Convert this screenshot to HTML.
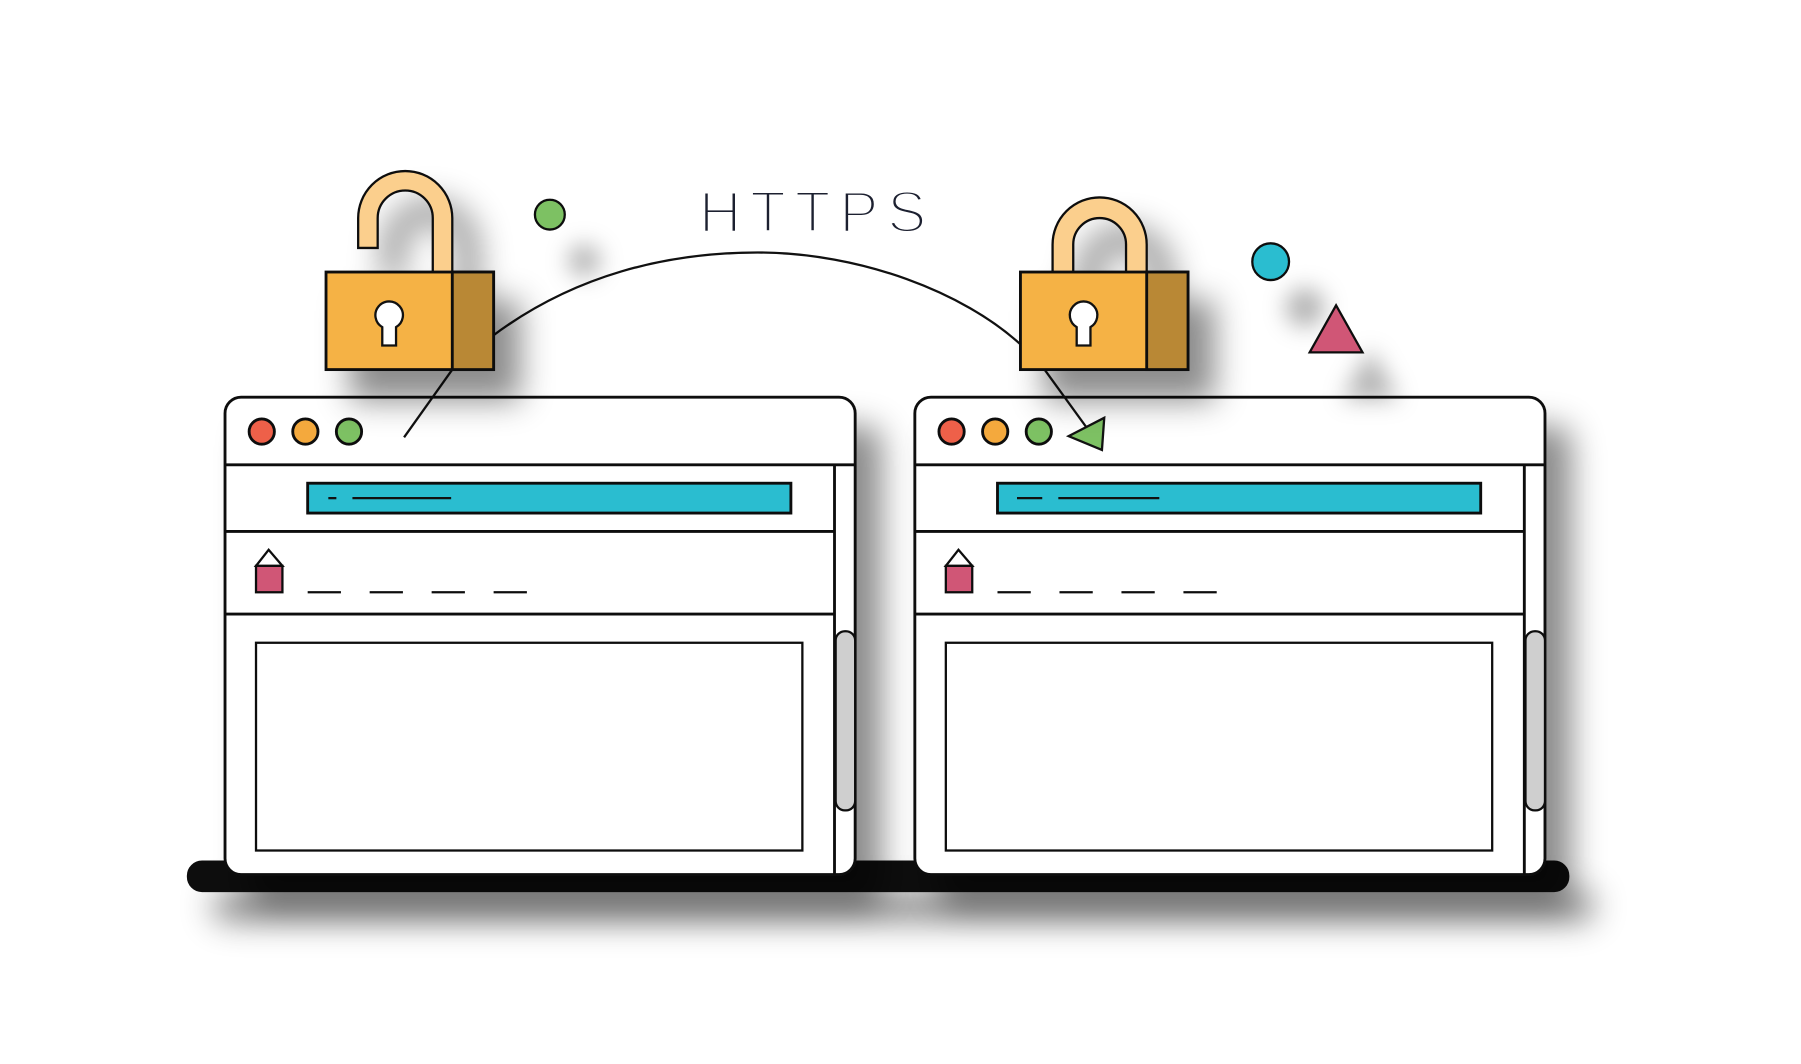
<!DOCTYPE html>
<html><head><meta charset="utf-8"><style>
html,body{margin:0;padding:0;background:#fff;width:1801px;height:1064px;overflow:hidden}
svg{display:block}
</style></head><body>
<svg width="1801" height="1064" viewBox="0 0 1569 927" xmlns="http://www.w3.org/2000/svg">
<defs>
<filter id="sh" filterUnits="userSpaceOnUse" x="0" y="0" width="1569" height="927">
<feDropShadow dx="22" dy="26" stdDeviation="14" flood-color="#000" flood-opacity="0.45"/>
</filter>
<filter id="sh2" filterUnits="userSpaceOnUse" x="0" y="0" width="1569" height="927">
<feDropShadow dx="30" dy="40" stdDeviation="10" flood-color="#000" flood-opacity="0.3"/>
</filter>
</defs>
<g stroke="#111" stroke-width="2.5">
<rect x="164" y="751" width="1202" height="25" rx="12" fill="#0a0a0a" filter="url(#sh)"/>
<g id="w" filter="url(#sh)">
<rect x="196" y="346" width="549" height="416" rx="14" fill="#fff"/>
<line x1="196" y1="405" x2="745" y2="405"/>
<line x1="727" y1="405" x2="727" y2="762"/>
<line x1="196" y1="463" x2="727" y2="463"/>
<line x1="196" y1="535" x2="727" y2="535"/>
<rect x="268" y="421" width="421" height="26" fill="#2cbdd0"/>
<rect x="223" y="560" width="476" height="181" fill="#fff" stroke-width="2"/>
<rect x="728" y="550" width="17" height="156" rx="8" fill="#cfcfcf" stroke-width="2"/>
<circle cx="228" cy="376" r="11" fill="#ee6048"/>
<circle cx="266" cy="376" r="11" fill="#f4a93d"/>
<circle cx="304" cy="376" r="11" fill="#7dc163"/>
<polygon points="234,479 223,493 246,493" fill="#fff" stroke-width="2"/>
<rect x="223" y="493" width="23" height="23" fill="#d05676" stroke-width="2"/>
<g stroke-width="2"><line x1="268" y1="516" x2="297" y2="516"/><line x1="322" y1="516" x2="351" y2="516"/><line x1="376" y1="516" x2="405" y2="516"/><line x1="430" y1="516" x2="459" y2="516"/></g>
</g>
<line x1="286" y1="434" x2="293" y2="434" stroke-width="2"/><line x1="307" y1="434" x2="393" y2="434" stroke-width="2"/>
<use href="#w" x="601"/>
<line x1="886" y1="434" x2="908" y2="434" stroke-width="2"/><line x1="922" y1="434" x2="1010" y2="434" stroke-width="2"/>
<path d="M430 292 C500 240 580 220 660 220 C750 220 840 255 889 300" fill="none" stroke-width="2"/>
<line x1="394" y1="322" x2="352" y2="381" stroke-width="2"/>
<line x1="910" y1="322" x2="947" y2="373" stroke-width="2"/>
<polygon points="962,364 931,380 960,392" fill="#7dc163" stroke-width="2"/>
<g filter="url(#sh)">
<path d="M312 216 V190 A41 41 0 0 1 394 190 V238 H377 V190 A24 24 0 0 0 329 190 V216 Z" fill="#fbcf8d" stroke-width="2"/>
<rect x="284" y="237" width="146" height="85" fill="#f5b244"/>
<rect x="394" y="237" width="36" height="85" fill="#b98836"/>
</g>
<path d="M333 285 A12 12 0 1 1 345 285 V301 H333 Z" fill="#fff" stroke-width="2"/>
<g filter="url(#sh)">
<path d="M917 238 V213 A41 41 0 0 1 999 213 V238 H981 V213 A23 23 0 0 0 935 213 V238 Z" fill="#fbcf8d" stroke-width="2"/>
<rect x="889" y="237" width="146" height="85" fill="#f5b244"/>
<rect x="999" y="237" width="36" height="85" fill="#b98836"/>
</g>
<path d="M938 285 A12 12 0 1 1 950 285 V301 H938 Z" fill="#fff" stroke-width="2"/>
<circle cx="479" cy="187" r="13" fill="#7dc163" filter="url(#sh2)" stroke-width="2"/>
<circle cx="1107" cy="228" r="16" fill="#2cbdd0" filter="url(#sh2)" stroke-width="2"/>
<polygon points="1164,266 1141,307 1187,307" fill="#d05676" filter="url(#sh2)" stroke-width="2"/>
</g>
<text x="609" y="202" font-family="Liberation Sans, sans-serif" font-size="51" fill="#1c2030" stroke="#ffffff" stroke-width="2.6" textLength="198" lengthAdjust="spacing">HTTPS</text>
</svg>
</body></html>
